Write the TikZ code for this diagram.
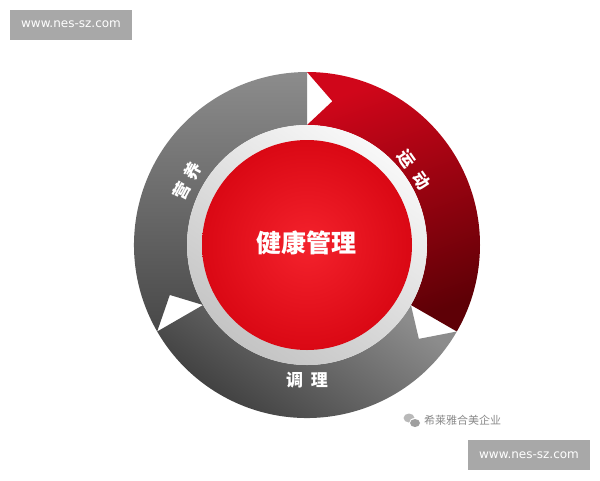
\documentclass[tikz,border=0pt]{standalone}
\usepackage{fontspec}
\setmainfont{DejaVu Sans}
\newfontfamily\cjk{Noto Sans CJK SC}
\definecolor{wmgray}{HTML}{A8A8A8}
\definecolor{grayA}{HTML}{8C8C8C}
\definecolor{grayB}{HTML}{484848}
\definecolor{grayC}{HTML}{8C8C8C}
\definecolor{grayD}{HTML}{333333}
\definecolor{redA}{HTML}{D0061A}
\definecolor{redB}{HTML}{5E0006}
\definecolor{coreA}{HTML}{F4222C}
\definecolor{coreB}{HTML}{DA0814}
\definecolor{rimA}{HTML}{F8F8F8}
\definecolor{rimB}{HTML}{C4C4C4}
\definecolor{txtgray}{HTML}{8A8A8A}
\tikzset{
  wmbox/.style={fill=wmgray, text=white, inner sep=0pt, minimum width=122pt, minimum height=30pt, font=\fontsize{12}{12}\selectfont},
  seglabel/.style={text=white, font=\cjk\bfseries\fontsize{17}{17}\selectfont, inner sep=0pt},
}
\begin{document}
\begin{tikzpicture}[x=1pt,y=1pt]
\useasboundingbox (0,0) rectangle (600,-480);
\fill[white] (0,0) rectangle (600,-480);
\coordinate (C) at (307,-245);
% 营养 segment (upper left)
\shade[top color=grayA, bottom color=grayB]
  ([shift={(C)}]210:173pt) arc[start angle=210,end angle=90,radius=173pt]
  -- ([shift={(C)}]90:120pt) arc[start angle=90,end angle=210,radius=120pt]
  -- ([shift={(C)}]200:146pt) -- cycle;
% 运动 segment (right)
\shade[top color=redA, bottom color=redB, shading angle=20]
  ([shift={(C)}]90:173pt) arc[start angle=90,end angle=-30,radius=173pt]
  -- ([shift={(C)}]-30:120pt) arc[start angle=-30,end angle=90,radius=120pt]
  -- ([shift={(C)}]80:146pt) -- cycle;
% 调理 segment (bottom)
\shade[top color=grayC, bottom color=grayD, shading angle=-35]
  ([shift={(C)}]330:173pt) arc[start angle=330,end angle=210,radius=173pt]
  -- ([shift={(C)}]210:120pt) arc[start angle=210,end angle=330,radius=120pt]
  -- ([shift={(C)}]320:146pt) -- cycle;
% rim and core
\shade[top color=rimA, bottom color=rimB, shading angle=-35] (C) circle[radius=120pt];
\shade[inner color=coreA, outer color=coreB] (C) circle[radius=105pt];
\node[text=white, font=\cjk\bfseries\fontsize{25}{25}\selectfont, inner sep=0pt] (core) at ([shift={(C)}]-1,2) {健康管理};
% segment labels
\node[seglabel, rotate=62] (yy) at ([shift={(C)}]152:136pt) {营\hspace{6pt}养};
\node[seglabel, rotate=-55] (yd) at ([shift={(C)}]35:131pt) {运\hspace{9pt}动};
\node[seglabel] (tl) at ([shift={(C)}]-90:135pt) {调\hspace{8pt}理};
% watermarks
\node[wmbox] (wm1) at (71,-24.5) {www.nes-sz.com};
\node[wmbox] (wm2) at (529,-455) {www.nes-sz.com};
% wechat mark
\fill[gray!55] (409,-418) ellipse[x radius=5.5pt, y radius=4.5pt];
\fill[white] (415,-423) ellipse[x radius=6pt, y radius=5pt];
\fill[gray!75] (415,-423) ellipse[x radius=5pt, y radius=4pt];
\node[anchor=west, text=txtgray, font=\cjk\fontsize{11}{11}\selectfont, inner sep=0pt] (wx) at (424,-420) {希莱雅合美企业};
\end{tikzpicture}
\end{document}
